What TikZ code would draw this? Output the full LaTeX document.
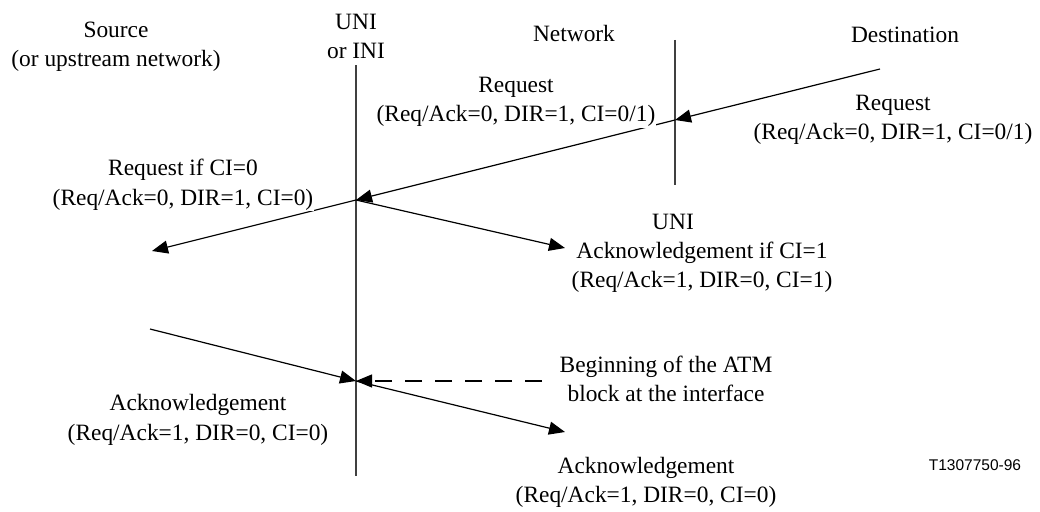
\documentclass[tikz,border=0pt]{standalone}
\usepackage{fontspec}
\setmainfont{Liberation Serif}
\newfontfamily\figsans{Liberation Sans}
\usetikzlibrary{arrows.meta}
\begin{document}
\begin{tikzpicture}[x=1pt,y=-1pt,
  lbl/.style={font=\fontsize{23.4}{29.5}\selectfont, align=center, inner sep=1pt},
  masklbl/.style={lbl, fill=white},
  axis/.style={line width=1.4pt, draw=black!75},
  msg/.style={line width=1.2pt, -{Triangle[length=16pt,width=13pt]}},
  marker/.style={line width=1.2pt, dash pattern=on 17pt off 13pt, -{Triangle[length=16pt,width=13pt]}}]
\useasboundingbox (0,0) rectangle (1040,511);
% interface lines
\coordinate (uniTop) at (356,65);
\coordinate (uniBot) at (356,476);
\coordinate (netTop) at (675,40);
\coordinate (netBot) at (675,185);
% message points
\coordinate (D0) at (880,69);
\coordinate (N1) at (675,120);
\coordinate (U1) at (356,200);
\coordinate (S1) at (152,251);
\coordinate (A1) at (565,248);
\coordinate (S2) at (150,329);
\coordinate (U2) at (356,381);
\coordinate (B) at (542,381);
\coordinate (A2) at (565,432);

\draw[axis] (uniTop) -- (uniBot);
\draw[axis] (netTop) -- (netBot);

\draw[msg] (D0) -- (N1);
\draw[msg] (N1) -- (U1);
\draw[msg] (U1) -- (S1);
\draw[msg] (U1) -- (A1);
\draw[msg] (S2) -- (U2);
\draw[marker] (B) -- (U2);
\draw[msg] (U2) -- (A2);

% labels
\node[lbl] (src) at (116,46.5) {Source\\(or upstream network)};
\node[lbl] (unilbl) at (356,36.5) {UNI\\or INI};
\node[lbl] (netlbl) at (574,33) {Network};
\node[lbl] (destlbl) at (905,35) {Destination};
\node[lbl] (reqR) at (893,120) {Request\\(Req/Ack=0, DIR=1, CI=0/1)};
\node[masklbl] (reqM) at (516,102) {Request\\(Req/Ack=0, DIR=1, CI=0/1)};
\node[masklbl] (reqL) at (183,185) {Request if CI=0\\(Req/Ack=0, DIR=1, CI=0)};
\node[lbl] (uni2) at (673,222) {UNI};
\node[lbl] (ack1) at (702,267) {Acknowledgement if CI=1\\(Req/Ack=1, DIR=0, CI=1)};
\node[lbl] (begin) at (666,379) {Beginning of the ATM\\block at the interface};
\node[lbl] (ackL) at (198,420) {Acknowledgement\\(Req/Ack=1, DIR=0, CI=0)};
\node[lbl] (ackR) at (646,482.5) {Acknowledgement\\(Req/Ack=1, DIR=0, CI=0)};
\node[font=\figsans\fontsize{15.5}{18}\selectfont, inner sep=0pt] (fig) at (975,465) {T1307750-96};
\end{tikzpicture}
\end{document}
